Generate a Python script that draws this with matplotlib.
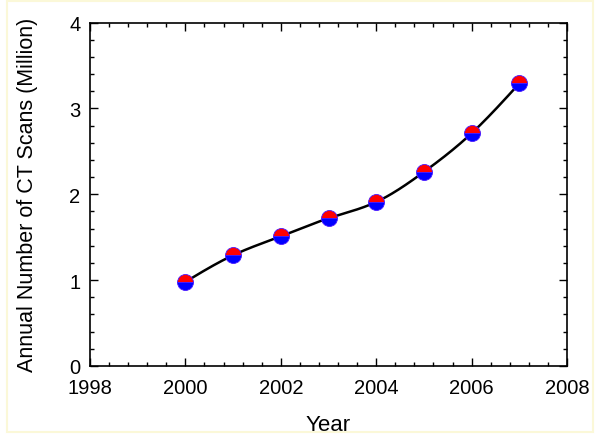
import numpy as np
import matplotlib
matplotlib.use("Agg")
import matplotlib.pyplot as plt
from matplotlib.ticker import MultipleLocator
from matplotlib.patches import Rectangle

years = [2000, 2001, 2002, 2003, 2004, 2005, 2006, 2007]
scans = [0.98, 1.29, 1.51, 1.72, 1.91, 2.26, 2.71, 3.29]
x_ticks = [1998, 2000, 2002, 2004, 2006, 2008]
y_ticks = [0, 1, 2, 3, 4]


def natural_spline(x, y, xs):
    x = np.asarray(x, float); y = np.asarray(y, float)
    n = len(x)
    h = np.diff(x)
    A = np.zeros((n, n)); b = np.zeros(n)
    A[0, 0] = A[-1, -1] = 1
    for i in range(1, n - 1):
        A[i, i - 1] = h[i - 1]
        A[i, i] = 2 * (h[i - 1] + h[i])
        A[i, i + 1] = h[i]
        b[i] = 3 * ((y[i + 1] - y[i]) / h[i] - (y[i] - y[i - 1]) / h[i - 1])
    c = np.linalg.solve(A, b)
    out = np.empty_like(xs)
    for k, xv in enumerate(xs):
        i = min(max(np.searchsorted(x, xv) - 1, 0), n - 2)
        dx = xv - x[i]
        bi = (y[i + 1] - y[i]) / h[i] - h[i] * (2 * c[i] + c[i + 1]) / 3
        di = (c[i + 1] - c[i]) / (3 * h[i])
        out[k] = y[i] + bi * dx + c[i] * dx ** 2 + di * dx ** 3
    return out


plt.rcParams['font.family'] = ['Liberation Sans', 'DejaVu Sans']
fig = plt.figure(figsize=(6.03, 4.39), dpi=100)
fig.patch.set_facecolor('white')
fig.add_artist(Rectangle((7 / 603, 1 - 433 / 439), (593 - 7) / 603, (433 - 2) / 439,
                         transform=fig.transFigure, fill=False,
                         edgecolor='#fbf8d8', linewidth=1.5))
ax = fig.add_axes([90 / 603, 1 - 367 / 439, (567 - 90) / 603, (367 - 23.5) / 439])

xs = np.linspace(years[0], years[-1], 300)
ax.plot(xs, natural_spline(years, scans, xs), color='black', lw=1.8, zorder=2)
ax.plot(years, scans, linestyle='none', marker='o', markersize=11.5,
        fillstyle='top', markerfacecolor='#ff0000', markerfacecoloralt='#0000ff',
        markeredgecolor='#4a1aff', markeredgewidth=0.6, zorder=3)

ax.set_xlim(1998, 2008)
ax.set_ylim(0, 4)
ax.set_xticks(x_ticks)
ax.set_yticks(y_ticks)
ax.xaxis.set_minor_locator(MultipleLocator(0.4))
ax.yaxis.set_minor_locator(MultipleLocator(0.2))
ax.tick_params(which='both', direction='in', top=True, right=True, labelsize=14.5,
               width=1, colors='black')
ax.tick_params(which='major', length=6)
ax.tick_params(which='minor', length=3)
ax.tick_params(axis='x', pad=9)
ax.tick_params(axis='y', pad=7)
for s in ax.spines.values():
    s.set_linewidth(1.2)
ax.set_xlabel('Year', fontsize=16, labelpad=12)
ax.set_ylabel('Annual Number of CT Scans (Million)', fontsize=15.5, labelpad=22)

fig.savefig('out.png', dpi=100)
